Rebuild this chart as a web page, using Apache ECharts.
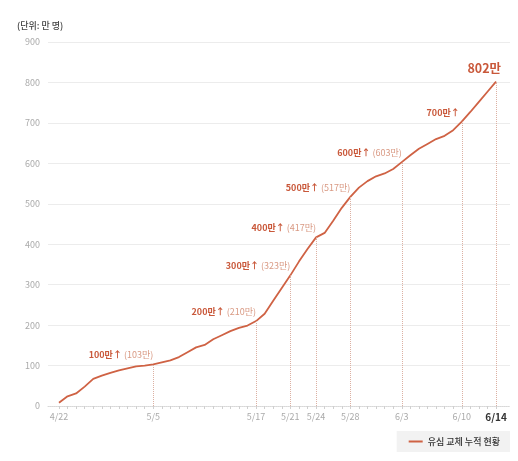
<!DOCTYPE html>
<html>
<head>
<meta charset="utf-8">
<script src="https://cdn.jsdelivr.net/npm/echarts@6/dist/echarts.min.js"></script>
<style>
  html, body { margin: 0; padding: 0; background: #fff; }
  #main { width: 518px; height: 461px; }
</style>
</head>
<body>
<div id="main"></div>
<script>
// 날짜 (4/23, 4/24 없음)
const dates = ['4/22',
  '4/25','4/26','4/27','4/28','4/29','4/30',
  '5/1','5/2','5/3','5/4','5/5','5/6','5/7','5/8','5/9','5/10','5/11','5/12','5/13','5/14','5/15','5/16',
  '5/17','5/18','5/19','5/20','5/21','5/22','5/23','5/24','5/25','5/26','5/27','5/28','5/29','5/30','5/31',
  '6/1','6/2','6/3','6/4','6/5','6/6','6/7','6/8','6/9','6/10','6/11','6/12','6/13','6/14'];
// 누적 교체 (만 명)
const values = [8, 24, 31, 48, 67, 75, 82, 88, 93, 98, 100, 103, 108, 113, 121, 133, 145, 151, 165, 175,
  185, 193, 199, 210, 228, 260, 292, 323, 357, 388, 417, 428, 458, 490, 517, 540, 556, 568, 575, 586,
  603, 620, 636, 648, 660, 668, 682, 703, 727, 752, 777, 802];
const labelDates = ['4/22','5/5','5/17','5/21','5/24','5/28','6/3','6/10','6/14'];
const noteDates = ['5/5','5/17','5/21','5/24','5/28','6/3','6/10'];
const noteMain = ['100만↑','200만↑','300만↑','400만↑','500만↑','600만↑','700만↑'];
const noteSub = ['(103만)','(210만)','(323만)','(417만)','(517만)','(603만)',''];
const lastNote = '802만';
const yTicks = [0, 100, 200, 300, 400, 500, 600, 700, 800, 900];

const FONT = '"Noto Sans CJK KR", "Noto Sans", sans-serif';
const RED = '#cf6244';

const labelIdx = labelDates.map(d => dates.indexOf(d));
const lastIdx = dates.length - 1;

// 세로 점선 (축 ~ 선)
const vLines = labelDates.slice(1).map(d => {
  const i = dates.indexOf(d);
  return [{coord: [i, 0]}, {coord: [i, values[i]]}];
});

// 주석
const notes = noteDates.map((d, k) => {
  const i = dates.indexOf(d);
  return {
    coord: [i, values[i]],
    label: {
      formatter: noteSub[k] ? '{a|' + noteMain[k] + '}{b|' + noteSub[k] + '}' : '{a|' + noteMain[k] + '}'
    }
  };
});
notes.push({
  coord: [lastIdx, values[lastIdx]],
  label: {formatter: '{c|' + lastNote + '}', offset: [5, -2]}
});

const chart = echarts.init(document.getElementById('main'));
chart.setOption({
  animation: false,
  textStyle: {fontFamily: FONT},
  title: {
    text: '(단위: 만 명)',
    left: 12, top: 16,
    textStyle: {fontSize: 9, fontWeight: 500, color: '#444', fontFamily: FONT}
  },
  grid: {left: 48, right: 8, top: 42, bottom: 55},
  legend: {
    right: 8, bottom: 9,
    backgroundColor: '#f2f2f2',
    padding: [6, 10, 6, 12],
    icon: 'rect',
    itemWidth: 14, itemHeight: 2,
    itemGap: 6,
    textStyle: {fontSize: 9, fontWeight: 500, color: '#333', fontFamily: FONT},
    data: ['유심 교체 누적 현황']
  },
  xAxis: {
    type: 'value',
    min: -1.28, max: 52.63,
    splitLine: {show: false},
    axisLine: {show: true, lineStyle: {color: '#d8d8d8', type: 'dotted'}},
    axisTick: {show: true, customValues: dates.map((d, i) => i), length: 3, lineStyle: {color: '#d0d0d0'}},
    axisLabel: {
      customValues: labelIdx,
      fontSize: 9, color: '#aaa', margin: 6, fontFamily: FONT,
      formatter: v => v === lastIdx ? '{b|' + dates[v] + '}' : dates[v],
      rich: {b: {fontSize: 10, fontWeight: 'bold', color: '#333', fontFamily: FONT}}
    }
  },
  yAxis: {
    type: 'value',
    min: yTicks[0], max: yTicks[yTicks.length - 1], interval: 100,
    axisLine: {show: false},
    axisTick: {show: false},
    axisLabel: {fontSize: 9, color: '#aaa', margin: 8, fontFamily: FONT},
    splitLine: {lineStyle: {color: '#ececec', width: 1}}
  },
  series: [{
    name: '유심 교체 누적 현황',
    type: 'line',
    data: values.map((v, i) => [i, v]),
    showSymbol: false,
    symbol: 'none',
    color: RED,
    lineStyle: {width: 1.8, color: RED},
    markLine: {
      silent: true,
      symbol: 'none',
      label: {show: false},
      lineStyle: {color: '#dcb0a2', type: 'dotted', width: 1},
      data: vLines
    },
    markPoint: {
      silent: true,
      symbol: 'circle',
      symbolSize: 0,
      label: {
        show: true,
        position: 'top',
        align: 'right',
        distance: 5,
        rich: {
          a: {fontSize: 9, fontWeight: 'bold', color: '#c9583a', fontFamily: FONT, padding: [0, 2, 0, 0]},
          b: {fontSize: 9, color: '#d99a84', fontFamily: FONT},
          c: {fontSize: 12.5, fontWeight: 'bold', color: '#c9583a', fontFamily: FONT}
        }
      },
      data: notes
    }
  }]
});
</script>
</body>
</html>
